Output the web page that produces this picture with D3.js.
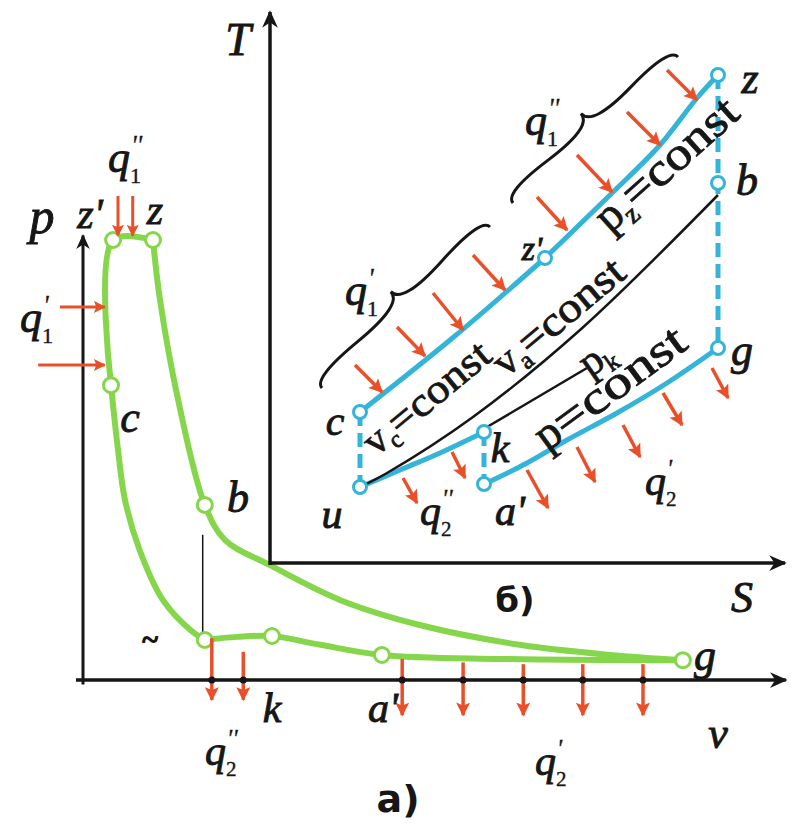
<!DOCTYPE html>
<html>
<head>
<meta charset="utf-8">
<script src="https://cdn.jsdelivr.net/npm/d3@7"></script>
<style>
  body { margin: 0; background: #fff; }
  svg { display: block; }
</style>
</head>
<body>
<div id="chart"></div>
<script>
// ---- a) p-v diagram, values in relative units (v, p) ----
var pvTop = [[4.0, 67], [4.3, 100], [10, 100]]                 // c -> z' -> z
var pvCompression = [[4.0, 67], [5.0, 52.3], [6.0, 40.9], [8.1, 29.5], [11.4, 18.2], [15.3, 11.4], [17.4, 9.1]]
var pvExpansion = [[10, 100], [11, 86.4], [13.6, 63.6], [17.4, 39.8], [20.3, 31.8], [26.7, 26.1],
                   [36.7, 18.2], [48.1, 12.5], [62.4, 8.0], [75.3, 5.7], [85.7, 4.5]]
var pvExhaust = [[17.4, 9.1], [22, 9.8], [27, 10], [33.9, 8.0], [42.7, 5.7], [59.6, 4.8], [85.7, 4.5]]
var pvPointNames = ["z'", "z", "c", "b", "a", "k", "a'", "g"]
var pvPointV = [4.3, 10, 4.0, 17.4, 17.4, 27, 42.7, 85.7]
var pvPointP = [100, 100, 67, 39.8, 9.1, 10, 5.7, 4.5]

// heat arrows on p-v
var q1ppV = [5.0, 7.1], q1ppFrom = 110, q1ppTo = 101            // q1'' downward
var q1pP = [84.8, 71.6], q1pFrom = [-3.3, -6.4], q1pTo = 3.1     // q1' to the right
var q2ppV = [18.4, 22.9], q2ppFrom = [9.5, 6.4], q2ppTo = -4.5   // q2''
var q2pV = [45.6, 54.3, 62.9, 71.4, 80], q2pFrom = [4.8, 4.0, 3.6, 3.6, 3.6], q2pTo = -8

// ---- б) T-s diagram, values in relative units (s, T) ----
var tsCZ1 = [[18, 30.2], [36.5, 45], [55, 61]]                                  // c -> z'  (v = const)
var tsCZ2 = [[55, 61], [68.4, 74], [78, 83.6], [85.4, 93], [89.6, 97.6]]        // z' -> z  (p = const)
var tsGA = [[89.6, 43], [79.4, 36], [69.4, 30], [59.4, 24.6], [51.4, 20], [44.6, 16.6], [42.8, 15.8]]
var tsUK = [[18, 15.2], [26, 18.6], [34, 22], [42.8, 26.2]]
var tsVa = [[18, 15.2], [23.4, 18], [40.6, 29.2], [62, 46.6], [89.6, 73.6]]  // black v_a = const
var tsPk = [[43.4, 27.2], [63.4, 39]]                                        // black p_k
var tsDashed = [[[18, 30.2], [18, 15.2]], [[89.6, 97.6], [89.6, 43]], [[42.8, 26.2], [42.8, 15.8]]]
var tsPointNames = ["c", "u", "z'", "z", "b", "g", "k", "a'"]
var tsPointS = [18, 18, 55, 89.6, 89.6, 89.6, 42.8, 42.8]
var tsPointT = [30.2, 15.2, 61, 97.6, 76, 43, 26.2, 15.8]
// arrows: [s1, T1, s2, T2]
var tsHeatIn = [[17, 39.6, 22.4, 34.2], [25.4, 47.2, 31, 41.4], [32.6, 54, 38.6, 46.6], [40.6, 61.6, 47, 54.6],
                [53.4, 73.2, 59.4, 66.6], [61.4, 81.6, 68.4, 74.2], [71.4, 90.2, 78, 83.6], [79.4, 98.6, 85.4, 92.6]]
var tsHeatOut = [[26.6, 17, 29.4, 12], [36.4, 22.2, 39, 17], [51.4, 18.6, 55.6, 11], [61.4, 23.2, 65, 16.2],
                 [70.6, 27.6, 74, 21.2], [78.6, 34, 82.4, 27.6], [88.4, 39, 91.6, 33]]
var tsBraces = [[44, 67.2, 10.4, 35], [81.6, 101.2, 48.6, 72]]

var green = "#86d64c", cyan = "#34b4d9", red = "#e9502a", ink = "#161616"
var serif = "'Liberation Serif', 'DejaVu Serif', serif"

var svg = d3.select("#chart").append("svg").attr("width", 800).attr("height", 828)
var defs = svg.append("defs")
defs.append("marker").attr("id", "redHead").attr("viewBox", "0 0 10 10").attr("refX", 9).attr("refY", 5)
    .attr("markerWidth", 4.5).attr("markerHeight", 4).attr("markerUnits", "strokeWidth").attr("orient", "auto")
    .append("path").attr("d", "M0,0 L10,5 L0,10 L2,5 Z").attr("fill", red)
defs.append("marker").attr("id", "axisHead").attr("viewBox", "0 0 10 10").attr("refX", 9).attr("refY", 5)
    .attr("markerWidth", 12).attr("markerHeight", 5).attr("markerUnits", "strokeWidth").attr("orient", "auto")
    .append("path").attr("d", "M0,0.5 L10,5 L0,9.5 L3,5 Z").attr("fill", ink)

// scales
var xv = d3.scaleLinear().domain([0, 100]).range([83, 783])
var yp = d3.scaleLinear().domain([0, 100]).range([680, 240])
var xs = d3.scaleLinear().domain([0, 100]).range([270, 770])
var yT = d3.scaleLinear().domain([0, 100]).range([563, 63])

var linePV = d3.line().x(d => xv(d[0])).y(d => yp(d[1])).curve(d3.curveCatmullRom)
var lineTS = d3.line().x(d => xs(d[0])).y(d => yT(d[1])).curve(d3.curveCatmullRom)

function arrow(g, x1, y1, x2, y2, w) {
    g.append("line").attr("x1", x1).attr("y1", y1).attr("x2", x2).attr("y2", y2)
        .attr("stroke", red).attr("stroke-width", w || 3.5).attr("marker-end", "url(#redHead)")
}

function txt(x, y, s, size, style, anchor) {
    return svg.append("text").attr("x", x).attr("y", y).text(s)
        .attr("font-family", serif).attr("font-size", size)
        .attr("font-style", style || "italic").attr("text-anchor", anchor || "middle")
        .attr("fill", ink).attr("stroke", ink).attr("stroke-width", 0.9)
}

// q with subscript and primes stacked
function qLabel(x, y, sub, primes, size) {
    txt(x, y, "q", size, "italic", "start")
    txt(x + size * 0.5, y + size * 0.26, sub, size * 0.5, "normal", "start").attr("stroke-width", 0.4)
    txt(x + size * 0.52, y - size * 0.42, primes, size * 0.6, "italic", "start").attr("stroke-width", 0.3)
}

function curlyBrace(x1, y1, x2, y2, w, q) {
    var len = Math.hypot(x1 - x2, y1 - y2)
    var dx = (x1 - x2) / len, dy = (y1 - y2) / len
    var qx1 = x1 + q * w * dy, qy1 = y1 - q * w * dx
    var qx2 = (x1 - .25 * len * dx) + (1 - q) * w * dy, qy2 = (y1 - .25 * len * dy) - (1 - q) * w * dx
    var tx1 = (x1 - .5 * len * dx) + w * dy, ty1 = (y1 - .5 * len * dy) - w * dx
    var qx3 = x2 + q * w * dy, qy3 = y2 - q * w * dx
    var qx4 = (x1 - .75 * len * dx) + (1 - q) * w * dy, qy4 = (y1 - .75 * len * dy) - (1 - q) * w * dx
    return "M" + x1 + "," + y1 + " Q" + qx1 + "," + qy1 + " " + qx2 + "," + qy2 + " T" + tx1 + "," + ty1 +
        " M" + x2 + "," + y2 + " Q" + qx3 + "," + qy3 + " " + qx4 + "," + qy4 + " T" + tx1 + "," + ty1
}

// ---------- p-v diagram ----------
var pv = svg.append("g")
pv.append("line").attr("x1", xv(-1)).attr("y1", yp(0)).attr("x2", xv(100.4)).attr("y2", yp(0))
    .attr("stroke", ink).attr("stroke-width", 3.5).attr("marker-end", "url(#axisHead)")
pv.append("line").attr("x1", xv(0)).attr("y1", yp(-1)).attr("x2", xv(0)).attr("y2", yp(101))
    .attr("stroke", ink).attr("stroke-width", 3).attr("marker-end", "url(#axisHead)")
pv.append("line").attr("x1", xv(17.1)).attr("y1", yp(33)).attr("x2", xv(17.1)).attr("y2", yp(9.1))
    .attr("stroke", ink).attr("stroke-width", 1.5)

;[pvTop, pvCompression, pvExpansion, pvExhaust].forEach(function (d) {
    pv.append("path").attr("d", linePV(d)).attr("fill", "none")
        .attr("stroke", green).attr("stroke-width", 6).attr("stroke-linejoin", "round")
})
pvPointV.forEach(function (v, i) {
    pv.append("circle").attr("cx", xv(v)).attr("cy", yp(pvPointP[i])).attr("r", 7.5)
        .attr("fill", "#fff").attr("stroke", green).attr("stroke-width", 3)
})

q1ppV.forEach(v => arrow(pv, xv(v), yp(q1ppFrom), xv(v), yp(q1ppTo), 3))
q1pP.forEach((p, i) => arrow(pv, xv(q1pFrom[i]), yp(p), xv(q1pTo), yp(p), 3))
q2ppV.forEach((v, i) => arrow(pv, xv(v), yp(q2ppFrom[i]), xv(v), yp(q2ppTo), 3.5))
q2pV.forEach((v, i) => arrow(pv, xv(v), yp(q2pFrom[i]), xv(v), yp(q2pTo), 3.5))
// small dots where arrows cross the v axis
q2ppV.concat(q2pV).forEach(v => pv.append("circle").attr("cx", xv(v)).attr("cy", yp(0)).attr("r", 3.5).attr("fill", ink))

// ---------- T-s diagram ----------
var ts = svg.append("g")
ts.append("line").attr("x1", xs(0)).attr("y1", yT(0)).attr("x2", xs(103)).attr("y2", yT(0))
    .attr("stroke", ink).attr("stroke-width", 3.5).attr("marker-end", "url(#axisHead)")
ts.append("line").attr("x1", xs(0)).attr("y1", yT(-0.4)).attr("x2", xs(0)).attr("y2", yT(110.2))
    .attr("stroke", ink).attr("stroke-width", 3.5).attr("marker-end", "url(#axisHead)")

tsDashed.forEach(function (d) {
    ts.append("path").attr("d", lineTS(d)).attr("fill", "none")
        .attr("stroke", cyan).attr("stroke-width", 5).attr("stroke-dasharray", "14,7")
})
;[tsCZ1, tsCZ2, tsGA, tsUK].forEach(function (d) {
    ts.append("path").attr("d", lineTS(d)).attr("fill", "none")
        .attr("stroke", cyan).attr("stroke-width", 5).attr("stroke-linejoin", "round")
})
;[tsVa, tsPk].forEach(function (d) {
    ts.append("path").attr("d", lineTS(d)).attr("fill", "none")
        .attr("stroke", ink).attr("stroke-width", 2.5)
})
tsPointS.forEach(function (s, i) {
    ts.append("circle").attr("cx", xs(s)).attr("cy", yT(tsPointT[i])).attr("r", 6.5)
        .attr("fill", "#fff").attr("stroke", cyan).attr("stroke-width", 3)
})
tsHeatIn.concat(tsHeatOut).forEach(d => arrow(ts, xs(d[0]), yT(d[1]), xs(d[2]), yT(d[3]), 3.5))
tsBraces.forEach(function (d) {
    ts.append("path").attr("d", curlyBrace(xs(d[0]), yT(d[1]), xs(d[2]), yT(d[3]), 22, 0.6))
        .attr("fill", "none").attr("stroke", ink).attr("stroke-width", 3)
})

// ---------- labels ----------
txt(42, 233, "p", 50)
txt(90, 228, "z'", 42)
txt(155, 224, "z", 42)
qLabel(108, 172, "1", "''", 44)
qLabel(20, 332, "1", "'", 44)
txt(130, 432, "c", 44)
txt(238, 512, "b", 44)
txt(150, 650, "~", 30, "normal").attr("stroke-width", 1.5)
txt(272, 722, "k", 42)
txt(383, 722, "a'", 42)
qLabel(205, 765, "2", "''", 42)
qLabel(535, 775, "2", "'", 42)
txt(718, 748, "v", 44)
txt(705, 670, "g", 44)
txt(398, 812, "а)", 38, "normal").attr("font-family", "'DejaVu Sans', sans-serif").attr("font-weight", "bold").attr("stroke-width", 0)

txt(238, 55, "T", 46)
txt(750, 93, "z", 44)
txt(747, 195, "b", 44)
txt(742, 365, "g", 44)
txt(335, 435, "c", 42)
txt(332, 528, "u", 42)
txt(500, 462, "k", 42)
txt(510, 525, "a'", 42)
qLabel(420, 525, "2", "''", 42)
qLabel(645, 495, "2", "'", 42)
qLabel(345, 305, "1", "'", 44)
qLabel(525, 135, "1", "''", 44)
txt(532, 260, "z'", 34)
txt(742, 612, "S", 44)
txt(515, 612, "б)", 34, "normal").attr("font-family", "'DejaVu Sans', sans-serif").attr("font-weight", "bold").attr("stroke-width", 0)

// rotated state labels: main letter, subscript, rest, stretched to span (x1,y1)-(x2,y2)
function rotLabel(x1, y1, x2, y2, main, sub, rest, size) {
    var ang = Math.atan2(y2 - y1, x2 - x1) * 180 / Math.PI
    var len = Math.hypot(x2 - x1, y2 - y1)
    var t = svg.append("text").attr("transform", "translate(" + x1 + "," + y1 + ") rotate(" + ang + ")")
        .attr("font-family", serif).attr("font-size", size).attr("fill", ink)
        .attr("stroke", ink).attr("stroke-width", 0.8)
    t.append("tspan").text(main)
    if (sub) t.append("tspan").text(sub).attr("font-size", size * 0.6).attr("dy", size * 0.18)
    var r = t.append("tspan").text(rest).attr("dy", sub ? -size * 0.18 : 0)
    var natural = t.node().getComputedTextLength()
    var restLen = r.node().getComputedTextLength()
    if (rest) r.attr("textLength", restLen + (len - natural)).attr("lengthAdjust", "spacingAndGlyphs")
}
rotLabel(376, 457, 494, 359, "v", "c", "=const", 41)
rotLabel(506, 378, 628, 276, "v", "a", "=const", 42)
rotLabel(610, 234, 742, 116, "p", "z", "=const", 46)
rotLabel(590, 378, 630, 350, "p", "k", "", 42)
rotLabel(547, 452, 690, 347, "p", "", "=const", 46)
</script>
</body>
</html>
